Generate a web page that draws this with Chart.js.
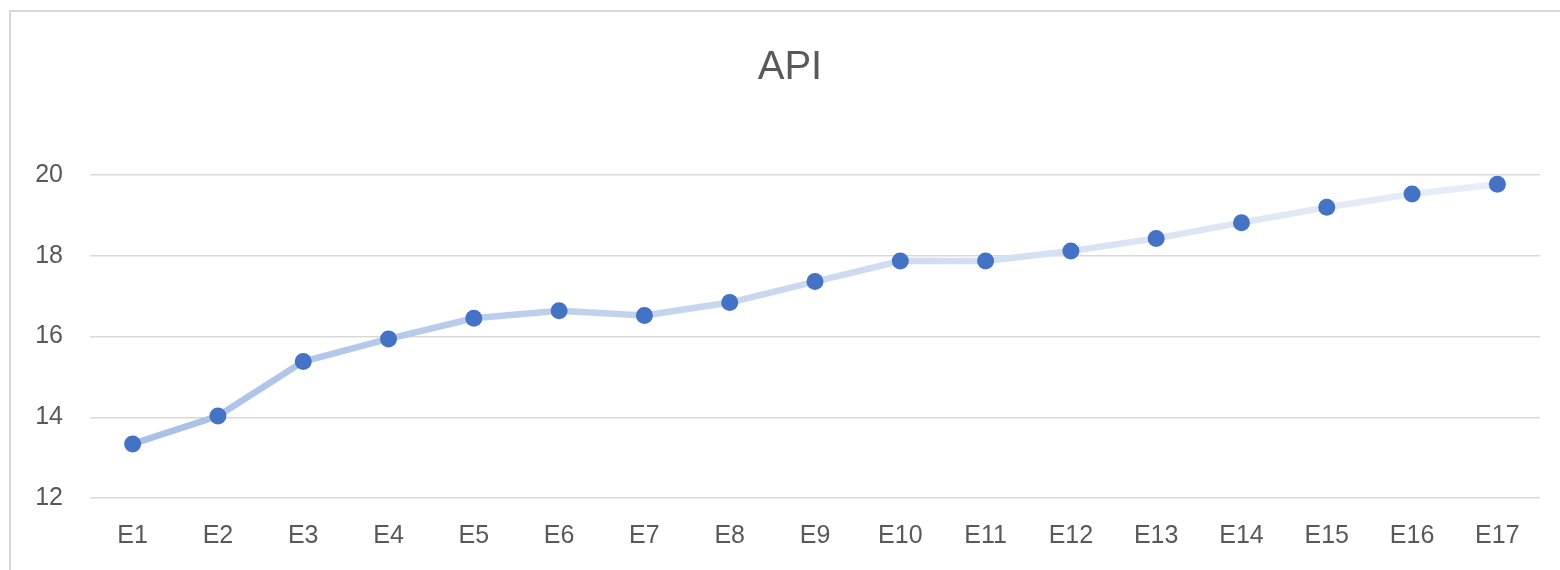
<!DOCTYPE html>
<html>
<head>
<meta charset="utf-8">
<script src="https://cdn.jsdelivr.net/npm/chart.js@4"></script>
<style>
    html, body { margin: 0; padding: 0; background: #fff; overflow: hidden; }
    #frame {
        position: absolute; left: 9px; top: 10px;
        width: 1549px; height: 558px;
        border-left: 2px solid #d9d9d9; border-top: 2px solid #d9d9d9;
    }
    #apiChart { display: block; }
</style>
</head>
<body>
<div id="frame"><canvas id="apiChart" width="1549" height="558"></canvas></div>
<script>
const categories = ["E1", "E2", "E3", "E4", "E5", "E6", "E7", "E8", "E9", "E10", "E11", "E12", "E13", "E14", "E15", "E16", "E17"];
const apiValues = [13.34, 14.03, 15.38, 15.94, 16.45, 16.64, 16.52, 16.84, 17.36, 17.87, 17.87, 18.12, 18.43, 18.82, 19.2, 19.53, 19.77];
const yMin = 12, yMax = 20, yStep = 2;
const chartTitle = 'API';

document.addEventListener('DOMContentLoaded', function() {
    const textColor = '#595959';
    const fontFamily = '"Liberation Sans", Arial, sans-serif';

    // line fades from light blue on the left to near white on the right
    function lineGradient(context) {
        const chart = context.chart;
        const area = chart.chartArea;
        if (!area) return 'rgba(169, 192, 230, 1)';
        const g = chart.ctx.createLinearGradient(area.left, 0, area.right, 0);
        g.addColorStop(0, 'rgba(166, 190, 230, 1)');
        g.addColorStop(0.5, 'rgba(204, 218, 240, 1)');
        g.addColorStop(1, 'rgba(234, 240, 249, 1)');
        return g;
    }

    // title sits over the middle of the whole chart frame (which runs past the window edge)
    const frameTitle = {
        id: 'frameTitle',
        afterDraw(chart) {
            const ctx = chart.ctx;
            ctx.save();
            ctx.fillStyle = textColor;
            ctx.font = '40px ' + fontFamily;
            ctx.textAlign = 'center';
            ctx.textBaseline = 'middle';
            ctx.fillText(chartTitle, 779, 56);
            ctx.restore();
        }
    };

    const apiData = {
        labels: categories,
        datasets: [{
            label: chartTitle,
            data: apiValues,
            borderColor: lineGradient,
            borderWidth: 6.5,
            pointRadius: 8.5,
            pointBorderWidth: 0,
            pointBackgroundColor: '#4472C4',
            pointBorderColor: '#4472C4',
            tension: 0
        }]
    };

    const apiCtx = document.getElementById('apiChart').getContext('2d');
    const apiChart = new Chart(apiCtx, {
        type: 'line',
        data: apiData,
        plugins: [frameTitle],
        options: {
            responsive: false,
            animation: false,
            layout: { padding: { left: 0, right: 20, top: 163, bottom: 19 } },
            plugins: {
                legend: { display: false },
                tooltip: { enabled: false },
                title: { display: false }
            },
            scales: {
                x: {
                    offset: true,
                    grid: { display: false, drawTicks: false },
                    border: { display: false },
                    ticks: {
                        color: textColor,
                        padding: 23,
                        font: { family: fontFamily, size: 25, lineHeight: 1.2 },
                        maxRotation: 0,
                        autoSkip: false
                    },
                    afterFit: function(scale) { scale.height = 53; }
                },
                y: {
                    min: yMin,
                    max: yMax,
                    grid: { color: '#d9d9d9', lineWidth: 1.5, drawTicks: false },
                    border: { display: false },
                    ticks: {
                        stepSize: yStep,
                        color: textColor,
                        padding: 27,
                        font: { family: fontFamily, size: 25, lineHeight: 1.2 }
                    },
                    afterFit: function(scale) { scale.width = 79; }
                }
            }
        }
    });
});
</script>
</body>
</html>
